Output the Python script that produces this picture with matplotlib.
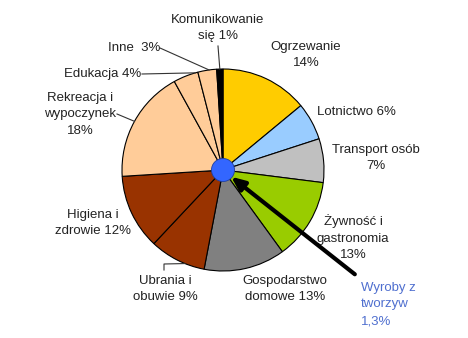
import matplotlib
matplotlib.use("Agg")
import matplotlib.pyplot as plt
from matplotlib.patches import Circle
import numpy as np

# dane - udzial w zuzyciu (%), zgodnie z ruchem wskazowek od gory
kategorie = ["Ogrzewanie", "Lotnictwo", "Transport osób", "Żywność i gastronomia",
             "Gospodarstwo domowe", "Ubrania i obuwie", "Higiena i zdrowie",
             "Rekreacja i wypoczynek", "Edukacja", "Inne", "Komunikowanie się"]
udzialy = [14, 6, 7, 13, 13, 9, 12, 18, 4, 3, 1]
kolory = ["#FFCC00", "#99CCFF", "#C0C0C0", "#99CC00", "#808080", "#993300",
          "#993300", "#FFCC99", "#FFCC99", "#FFCC99", "#000000"]
tworzywa = 1.3  # wyroby z tworzyw, %

plt.rcParams['font.family'] = ['Liberation Sans', 'DejaVu Sans']

W, H = 468, 338
fig = plt.figure(figsize=(W / 100, H / 100), dpi=100)
ax = fig.add_axes([0, 0, 1, 1])

def px(x, y):
    return (x, H - y)

cx, cy = px(223, 170)
R = 101
wedges, _ = ax.pie(udzialy, colors=kolory, startangle=90, counterclock=False,
                   center=(cx, cy), radius=R, frame=True,
                   wedgeprops=dict(edgecolor="black", linewidth=0.8))
ax.set_xlim(0, W)
ax.set_ylim(0, H)
ax.set_aspect("equal")
ax.axis("off")

def edge(i, frac=0.5, r=1.0):
    w = wedges[i]
    a = np.deg2rad(w.theta1 + frac * (w.theta2 - w.theta1))
    return (cx + r * R * np.cos(a), cy + r * R * np.sin(a))

fs = 9.5
opisy = [
    ("Ogrzewanie\n14%", (306, 55)),
    ("Lotnictwo 6%", (356, 112)),
    ("Transport osób\n7%", (376, 158)),
    ("Żywność i\ngastronomia\n13%", (353, 238)),
    ("Gospodarstwo\ndomowe 13%", (285, 289)),
    ("Ubrania i\nobuwie 9%", (165, 289)),
    ("Higiena i\nzdrowie 12%", (93, 223)),
    ("Rekreacja i\nwypoczynek\n18%", (80, 114)),
    ("Edukacja 4%", (103, 74)),
    ("Inne  3%", (134, 48)),
    ("Komunikowanie\nsię 1%", (218, 28)),
]
for tekst, (x, y) in opisy:
    ax.text(*px(x, y), tekst, ha="center", va="center", fontsize=fs,
            color="#222222", linespacing=1.5)

# linie odniesienia
lk = "#333333"
ax.plot(*zip(px(160, 48), edge(9, 0.4)), color=lk, lw=0.8)
ax.plot(*zip(px(142, 74), edge(8, 0.1)), color=lk, lw=0.8)
ax.plot(*zip(px(117, 114), edge(7, 0.5)), color=lk, lw=0.8)
ax.plot(*zip(px(164, 270), px(164, 264), edge(5, 0.65)), color=lk, lw=0.8)
ax.plot(*zip(px(218, 46), edge(10, 0.5)), color=lk, lw=0.8)

# wyroby z tworzyw - kolo w srodku
r_t = R * np.sqrt(tworzywa / 100)
ax.add_patch(Circle((cx, cy), r_t, facecolor="#3366FF", edgecolor="#1f3fa0",
                    linewidth=0.6, zorder=5))
ax.annotate("", xy=px(229, 175), xytext=px(357, 276),
            arrowprops=dict(arrowstyle="-|>,head_length=0.8,head_width=0.35",
                            color="black", lw=3), zorder=6)
ax.text(*px(361, 282), "Wyroby z\ntworzyw\n1,3%", ha="left", va="top",
        fontsize=fs, color="#4F6FCF", linespacing=1.5)

fig.savefig("out.png", dpi=100)
